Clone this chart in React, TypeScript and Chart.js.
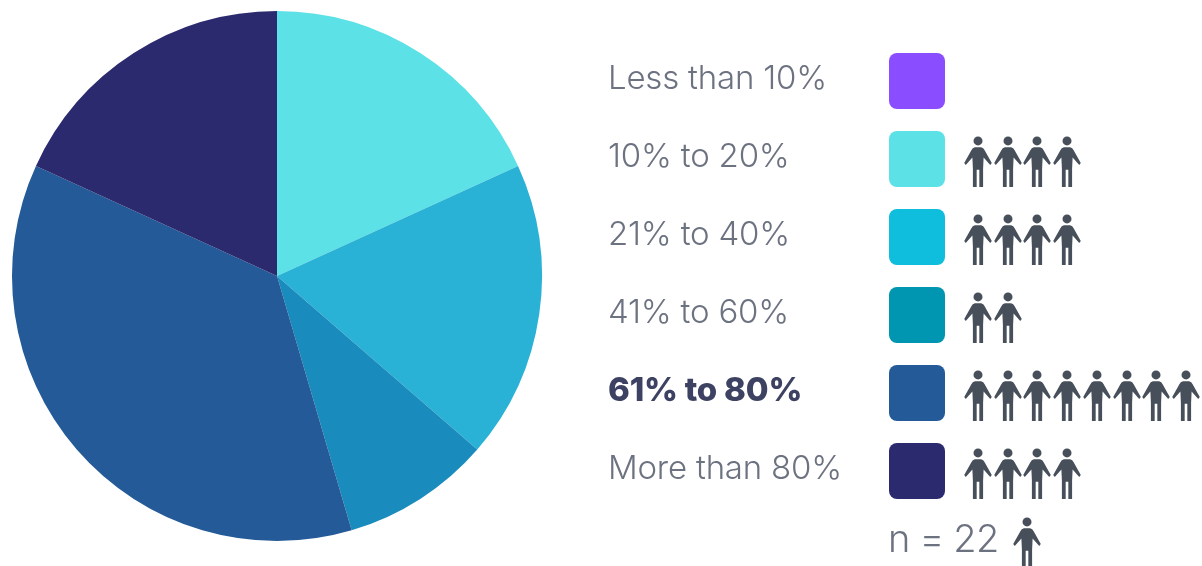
import React, { useEffect, useRef } from "react";
import { Chart, registerables } from "chart.js";

Chart.register(...registerables);

const categories = ["Less than 10%", "10% to 20%", "21% to 40%", "41% to 60%", "61% to 80%", "More than 80%"];
const respondents = [0, 4, 4, 2, 8, 4];
const sliceColors = ["#8a4dff", "#5ce1e6", "#2ab2d6", "#1a8bbd", "#235a97", "#2c2a6e"];
const swatchColors = ["#8a4dff", "#5ce1e6", "#0fbddd", "#0095b0", "#235a97", "#2c2a6e"];
const highlighted = "61% to 80%";
const sampleLabel = "n = 22";

const ROW_TOPS = [53, 131, 209, 287, 365, 443];
const FONT = "Inter, 'Open Sans', sans-serif";

function Person({ left, top }: { left: number; top: number }) {
  return (
    <svg width={28} height={51} viewBox="0 0 27 50" style={{ position: "absolute", left, top }}>
      <circle cx={13.5} cy={4.8} r={4.4} fill="#474f5a" />
      <path
        fill="#474f5a"
        d="M10.5 11H16.5Q19 11.5 20 14L27 26.5L25.5 28.5L19 21L18.5 32L18.5 50H14.8V33H12.2V50H8.5V32L8 21L1.5 28.5L0 26.5L7 14Q8 11.5 10.5 11Z"
      />
    </svg>
  );
}

export default function App() {
  const canvasRef = useRef<HTMLCanvasElement>(null);

  useEffect(() => {
    const chart = new Chart(canvasRef.current!, {
      type: "pie",
      data: {
        labels: categories,
        datasets: [{ data: respondents, backgroundColor: sliceColors, borderWidth: 0 }],
      },
      options: {
        animation: false,
        responsive: false,
        layout: { padding: { left: 12, right: 660, top: 11, bottom: 25 } },
        plugins: { legend: { display: false }, tooltip: { enabled: false } },
      },
    });
    return () => chart.destroy();
  }, []);

  return (
    <div style={{ position: "fixed", left: 0, top: 0, width: 1202, height: 566, overflow: "hidden", background: "#fff" }}>
      <canvas ref={canvasRef} width={1202} height={566} style={{ display: "block" }} />
      {categories.map((name, i) => (
        <React.Fragment key={name}>
          <div
            style={{
              position: "absolute",
              left: 608,
              top: ROW_TOPS[i] + 1,
              lineHeight: "46px",
              fontFamily: FONT,
              fontSize: 33,
              letterSpacing: -0.2,
              whiteSpace: "nowrap",
              fontWeight: name === highlighted ? 800 : 300,
              color: name === highlighted ? "#3d4263" : "#6d7280",
            }}
          >
            {name}
          </div>
          <div
            style={{
              position: "absolute",
              left: 889,
              top: ROW_TOPS[i],
              width: 56,
              height: 56,
              borderRadius: 8,
              background: swatchColors[i],
            }}
          />
          {Array.from({ length: respondents[i] }, (_, k) => (
            <Person key={k} left={964 + k * 29.7} top={ROW_TOPS[i] + 5} />
          ))}
        </React.Fragment>
      ))}
      <div
        style={{
          position: "absolute",
          left: 888,
          top: 515,
          lineHeight: "46px",
          fontFamily: FONT,
          fontSize: 38,
          letterSpacing: -0.8,
          fontWeight: 300,
          color: "#6d7280",
          whiteSpace: "nowrap",
        }}
      >
        {sampleLabel}
      </div>
      <Person left={1013} top={517} />
    </div>
  );
}
